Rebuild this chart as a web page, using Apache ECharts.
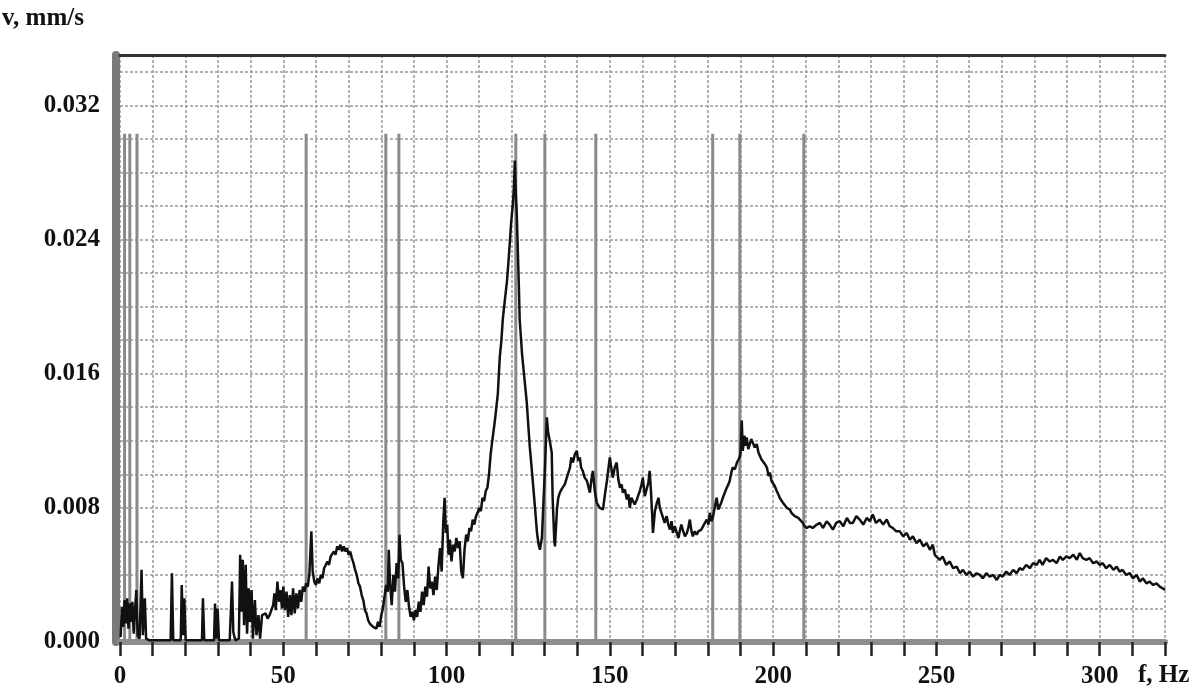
<!DOCTYPE html>
<html>
<head>
<meta charset="utf-8">
<script src="https://cdn.jsdelivr.net/npm/echarts@6/dist/echarts.min.js"></script>
<style>
  html, body { margin: 0; background: #fff; }
  #chart { width: 1200px; height: 689px; }
</style>
</head>
<body>
<div id="chart"></div>
<script>
// spectrum, [f Hz, v mm/s]
var lowBand = [
  [0.2,0.0003],[0.6,0.0021],[1.0,0.0009],[1.4,0.0025],[1.8,0.0011],[2.2,0.0026],[2.6,0.0008],[3.0,0.0023],
  [3.4,0.0012],[3.8,0.0024],[4.2,0.0005],[4.6,0.0019],[5.0,0.0031],[5.4,0.0004],[6.0,0.0002],[6.6,0.0043],
  [7.0,0.0004],[7.6,0.0026],[8.0,0.0002],[9.0,0.0001],[15.5,0.0001],[15.9,0.0041],[16.3,0.0001],[18.6,0.0001],
  [18.9,0.0034],[19.3,0.0004],[19.7,0.0026],[20.1,0.0001],[25.1,0.0001],[25.4,0.0026],[25.8,0.0001],[28.8,0.0001],
  [29.1,0.0023],[29.5,0.0002],[29.9,0.0020],[30.3,0.0001],[33.6,0.0001],[34.0,0.0021],[34.3,0.0036],[34.7,0.0006],
  [35.3,0.0001],[36.4,0.0002],[36.8,0.0052],[37.2,0.0018],[37.6,0.0049],[38.0,0.0010],[38.5,0.0046],[38.9,0.0005],
  [39.4,0.0032],[39.8,0.0012],[40.3,0.0031],[40.7,0.0002],[41.3,0.0025],[41.8,0.0004],[42.4,0.0016],[42.9,0.0002],
  [43.5,0.0016],[44.0,0.0015],[44.6,0.0017],[45.2,0.0014],[45.8,0.0016],[46.4,0.0015],[46.9,0.0022],[47.3,0.0029],
  [47.7,0.0019],[48.2,0.0036],[48.7,0.0024],[49.1,0.0031],[49.6,0.0020]
];
var midBand = [
  [50.0,0.0033],[50.5,0.0019],[51.0,0.0030],[51.5,0.0015],[52.0,0.0028],[52.5,0.0016],[53.0,0.0032],[53.5,0.0017],
  [54.0,0.0029],[54.5,0.0020],[55.0,0.0031],[55.5,0.0024],[56.0,0.0033],[56.5,0.0030],[57.0,0.0035],[57.5,0.0033],
  [58.0,0.0041],[58.6,0.0066],[59.0,0.0042],[59.5,0.0036],[60.0,0.0034],[60.5,0.0038],[61.0,0.0035],[61.5,0.0040],
  [62.0,0.0038],[62.5,0.0044],[63.0,0.0043],[63.5,0.0048],[64.0,0.0046],[64.5,0.0051],[65.0,0.0050],[65.5,0.0054],
  [66.0,0.0052],[66.5,0.0057],[67.0,0.0055],[67.5,0.0058],[68.0,0.0054],[68.5,0.0057],[69.0,0.0054],[69.5,0.0056],
  [70.0,0.0052],[70.5,0.0054],[71.0,0.0050],[71.5,0.0047],[72.0,0.0043],[72.5,0.0040],[73.0,0.0035],[73.5,0.0033],
  [74.0,0.0028],[74.5,0.0025],[75.0,0.0019],[75.5,0.0017],[76.0,0.0013],[76.5,0.0011],[77.0,0.0012],[77.5,0.0009],
  [78.0,0.0010],[78.5,0.0008],[79.0,0.0012],[79.5,0.0009],[80.0,0.0016],[80.5,0.0020],[81.0,0.0027],[81.5,0.0034],
  [82.0,0.0030],[82.3,0.0055],[82.7,0.0035],[83.2,0.0022],[83.7,0.0040],[84.2,0.0030],[84.7,0.0047],[85.2,0.0038],
  [85.6,0.0064],[86.0,0.0049],[86.5,0.0047],[87.0,0.0033],[87.5,0.0024],[88.0,0.0031],[88.5,0.0021],[89.0,0.0015],
  [89.5,0.0018],[90.0,0.0013],[90.5,0.0019],[91.0,0.0015],[91.5,0.0024],[92.0,0.0018],[92.5,0.0030],[93.0,0.0022],
  [93.5,0.0033],[94.0,0.0027],[94.5,0.0045],[95.0,0.0032],[95.5,0.0036],[96.0,0.0028],[96.5,0.0039],[97.0,0.0031],
  [97.5,0.0045],[98.0,0.0056],[98.5,0.0042],[99.0,0.0072],[99.4,0.0086],[99.8,0.0065]
];
var peakBand = [
  [100.2,0.0070],[100.6,0.0052],[101.0,0.0061],[101.5,0.0048],[102.0,0.0058],[102.5,0.0054],[103.0,0.0062],[103.5,0.0056],
  [104.0,0.0060],[104.5,0.0042],[105.0,0.0038],[105.5,0.0055],[106.0,0.0064],[106.5,0.0060],[107.0,0.0068],[107.5,0.0066],
  [108.0,0.0073],[108.5,0.0070],[109.0,0.0075],[109.5,0.0077],[110.0,0.0080],[110.5,0.0078],[111.0,0.0086],[111.5,0.0084],
  [112.0,0.0090],[112.5,0.0092],[113.0,0.0100],[113.5,0.0112],[114.0,0.0120],[114.8,0.0132],[115.7,0.0148],[116.3,0.0170],
  [116.8,0.0180],[117.2,0.0192],[117.8,0.0203],[118.5,0.0215],[119.0,0.0228],[119.4,0.0239],[119.7,0.0248],[120.0,0.0255],
  [120.3,0.0261],[120.6,0.0270],[120.9,0.0287],[121.2,0.0268],[121.5,0.0255],[121.8,0.0235],[122.1,0.0215],[122.4,0.0192],
  [123.1,0.0172],[123.6,0.0162],[124.0,0.0154],[124.6,0.0142],[125.0,0.0130],[125.5,0.0116],[126.0,0.0105],[126.4,0.0096],
  [127.0,0.0082],[127.7,0.0065],[128.2,0.0058],[128.6,0.0055],[129.0,0.0060],[129.2,0.0062],[129.7,0.0085],[130.1,0.0102],
  [130.7,0.0134],[131.1,0.0125],[131.6,0.0120],[132.2,0.0113],[132.5,0.0085],[133.0,0.0060],[133.2,0.0057],[133.8,0.0079],
  [134.2,0.0086],[134.7,0.0089],[135.2,0.0091],[135.6,0.0092],[136.2,0.0094],[136.8,0.0095],[137.3,0.0101],[137.8,0.0104],
  [138.2,0.0110],[138.7,0.0107],[139.3,0.0112],[139.9,0.0114],[140.3,0.0108],[140.8,0.0110],[141.2,0.0104],[141.7,0.0102],
  [142.3,0.0098],[143.0,0.0096],[143.5,0.0092],[143.9,0.0089],[144.3,0.0096],[144.8,0.0102],[145.4,0.0090]
];
var highBand = [
  [146.0,0.0083],[146.9,0.0080],[147.9,0.0079],[148.5,0.0088],[149.1,0.0096],[149.6,0.0104],[150.0,0.0110],[150.5,0.0103],
  [150.9,0.0098],[151.5,0.0104],[152.1,0.0107],[152.6,0.0097],[153.1,0.0092],[153.6,0.0094],[154.0,0.0089],[154.6,0.0091],
  [155.2,0.0085],[155.7,0.0088],[156.1,0.0080],[156.6,0.0086],[157.0,0.0086],[157.6,0.0082],[158.3,0.0085],[158.8,0.0088],
  [159.2,0.0090],[159.7,0.0094],[160.1,0.0098],[160.7,0.0087],[161.3,0.0086],[161.8,0.0095],[162.2,0.0102],[162.6,0.0090],
  [162.9,0.0078],[163.2,0.0065],[163.8,0.0078],[164.4,0.0083],[164.9,0.0086],[165.3,0.0080],[165.9,0.0079],[166.3,0.0074],
  [166.8,0.0071],[167.4,0.0075],[167.9,0.0070],[168.4,0.0067],[168.9,0.0072],[169.3,0.0065],[169.9,0.0069],[170.5,0.0068],
  [171.0,0.0062],[171.4,0.0066],[171.9,0.0070],[172.3,0.0067],[173.0,0.0063],[173.6,0.0065],[174.0,0.0068],[174.5,0.0073],
  [175.0,0.0066],[175.4,0.0063],[176.0,0.0066],[176.6,0.0064],[177.1,0.0066],[177.6,0.0065],[178.0,0.0067],[178.5,0.0068],
  [179.1,0.0071],[179.7,0.0073],[180.2,0.0070],[180.6,0.0077],[181.1,0.0072],[181.5,0.0074],[182.1,0.0080],[182.7,0.0086],
  [183.2,0.0079],[183.7,0.0078],[184.1,0.0083],[184.6,0.0086],[185.2,0.0089],[185.8,0.0092],[186.3,0.0094],[186.7,0.0096],
  [187.2,0.0101],[187.6,0.0104],[188.3,0.0103],[188.9,0.0107],[189.5,0.0109],[190.0,0.0112],[190.4,0.0132],[190.7,0.0114],
  [191.2,0.0123],[191.6,0.0117],[191.9,0.0122],[192.4,0.0115],[192.9,0.0114],[193.3,0.0121],[193.8,0.0120],[194.4,0.0116],
  [195.0,0.0118],[195.5,0.0113],[195.9,0.0113],[196.4,0.0109],[196.8,0.0108],[197.5,0.0106],[198.1,0.0104],[198.6,0.0099],
  [199.0,0.0101],[199.5,0.0096],[199.9,0.0095],[200.5,0.0093],[201.1,0.0090],[201.6,0.0088],[202.0,0.0086],[202.5,0.0087],
  [203.0,0.0083],[203.6,0.0082],[204.2,0.0080],[204.7,0.0081],[205.1,0.0079],[205.6,0.0077],[206.0,0.0076],[206.6,0.0075],
  [207.2,0.0074],[207.7,0.0074],[208.2,0.0073],[209.1,0.0071],[209.6,0.0069],[210.3,0.0068],[211.2,0.0069],[212.1,0.0068],
  [213.4,0.0070],[214.3,0.0071],[215.3,0.0068],[216.4,0.0072],[217.3,0.0070],[218.3,0.0067],[219.3,0.0071],[220.4,0.0072],
  [221.5,0.0069],[222.6,0.0074],[223.5,0.0071],[224.4,0.0071],[225.5,0.0075],[226.5,0.0073],[227.6,0.0070],[228.7,0.0074],
  [229.6,0.0072],[230.5,0.0076],[231.5,0.0071],[232.6,0.0073],[233.7,0.0070],[234.8,0.0073],[235.7,0.0069],[236.6,0.0068],
  [237.7,0.0066],[238.8,0.0066],[239.8,0.0063],[240.9,0.0065],[241.9,0.0061],[242.8,0.0063],[243.9,0.0059],[244.9,0.0061],
  [246.0,0.0057],[247.0,0.0059],[248.0,0.0055],[248.9,0.0058],[249.5,0.0052],[250.1,0.0053],[251.0,0.0049],[251.9,0.0051],
  [253.0,0.0046],[254.1,0.0048],[255.1,0.0044],[256.2,0.0045],[257.2,0.0041],[258.1,0.0043],[259.2,0.0040],[260.2,0.0042],
  [261.2,0.0039],[262.3,0.0041],[263.3,0.0040],[264.2,0.0038],[265.3,0.0041],[266.3,0.0039],[267.4,0.0040],[268.5,0.0037],
  [269.4,0.0040],[270.3,0.0039],[271.4,0.0042],[272.4,0.0040],[273.5,0.0043],[274.6,0.0041],[275.5,0.0044],[276.4,0.0043],
  [277.5,0.0046],[278.6,0.0044],[279.6,0.0047],[280.7,0.0046],[281.6,0.0049],[282.5,0.0046],[283.6,0.0050],[284.7,0.0048],
  [285.7,0.0049],[286.8,0.0047],[287.8,0.0051],[288.7,0.0049],[289.8,0.0051],[290.8,0.0050],[291.9,0.0052],[293.0,0.0049],
  [293.9,0.0053],[294.8,0.0050],[295.9,0.0049],[296.9,0.0050],[298.0,0.0047],[299.1,0.0048],[300.0,0.0046],[300.9,0.0047],
  [302.0,0.0044],[303.1,0.0046],[304.2,0.0043],[305.2,0.0045],[306.1,0.0042],[307.0,0.0043],[308.1,0.0040],[309.2,0.0041],
  [310.2,0.0038],[311.3,0.0040],[312.3,0.0036],[313.2,0.0038],[314.3,0.0035],[315.3,0.0036],[316.4,0.0034],[317.4,0.0035],
  [318.4,0.0033],[319.3,0.0032],[320.0,0.0031]
];

// gray vertical marker lines (Hz) and their common height
var markerFreqs = [1.4, 3.0, 5.2, 57.0, 81.4, 85.4, 121.2, 130.1, 145.7, 181.5, 189.8, 209.4];
var markerTop = 0.0303;

var spectrum = lowBand.concat(midBand, peakBand, highBand);

var font = 'Liberation Serif';
var chart = echarts.init(document.getElementById('chart'));

chart.setOption({
  animation: false,
  backgroundColor: '#fff',
  grid: { left: 120, right: 35, top: 55, bottom: 47 },
  xAxis: [{
    type: 'value', min: 0, max: 320, interval: 10,
    offset: 0,
    axisLine: { show: true, onZero: false, lineStyle: { color: '#8e8e8e', width: 6 } },
    axisTick: { show: true, inside: false, length: 14, lineStyle: { color: '#222', width: 2.5 } },
    axisLabel: {
      margin: 22,
      color: '#111', fontFamily: font, fontWeight: 'bold', fontSize: 25,
      formatter: function (v) { return v % 50 === 0 && v <= 300 ? String(v) : ''; }
    },
    splitLine: { show: true, lineStyle: { color: '#9a9a9a', width: 1.5, type: [3, 2] } }
  }, {
    type: 'value', min: 0, max: 320,
    position: 'top',
    axisLine: { show: true, onZero: false, lineStyle: { color: '#333', width: 3 } },
    axisTick: { show: false }, axisLabel: { show: false }, splitLine: { show: false }
  }],
  yAxis: {
    type: 'value', min: 0, max: 0.035, interval: 0.002,
    offset: 4,
    axisLine: { show: true, onZero: false, lineStyle: { color: '#7a7a7a', width: 8 } },
    axisTick: { show: false },
    axisLabel: {
      margin: 16,
      color: '#111', fontFamily: font, fontWeight: 'bold', fontSize: 25,
      formatter: function (v) { return Math.round(v * 1000) % 8 === 0 ? v.toFixed(3) : ''; }
    },
    splitLine: { show: true, lineStyle: { color: '#9a9a9a', width: 1.5, type: [3, 2] } }
  },
  graphic: [
    { type: 'text', left: 2, top: 6,
      style: { text: 'v, mm/s', fill: '#111', font: 'bold 25px "Liberation Serif"' } },
    { type: 'text', left: 1138, top: 663,
      style: { text: 'f, Hz', fill: '#111', font: 'bold 25px "Liberation Serif"' } }
  ],
  series: [{
    type: 'bar',
    data: markerFreqs.map(function (f) { return [f, markerTop]; }),
    barWidth: 3,
    itemStyle: { color: '#8a8a8a' },
    silent: true,
    z: 2
  }, {
    type: 'line',
    data: spectrum,
    showSymbol: false,
    lineStyle: { color: '#111', width: 2.5 },
    silent: true,
    z: 3
  }]
});
</script>
</body>
</html>
